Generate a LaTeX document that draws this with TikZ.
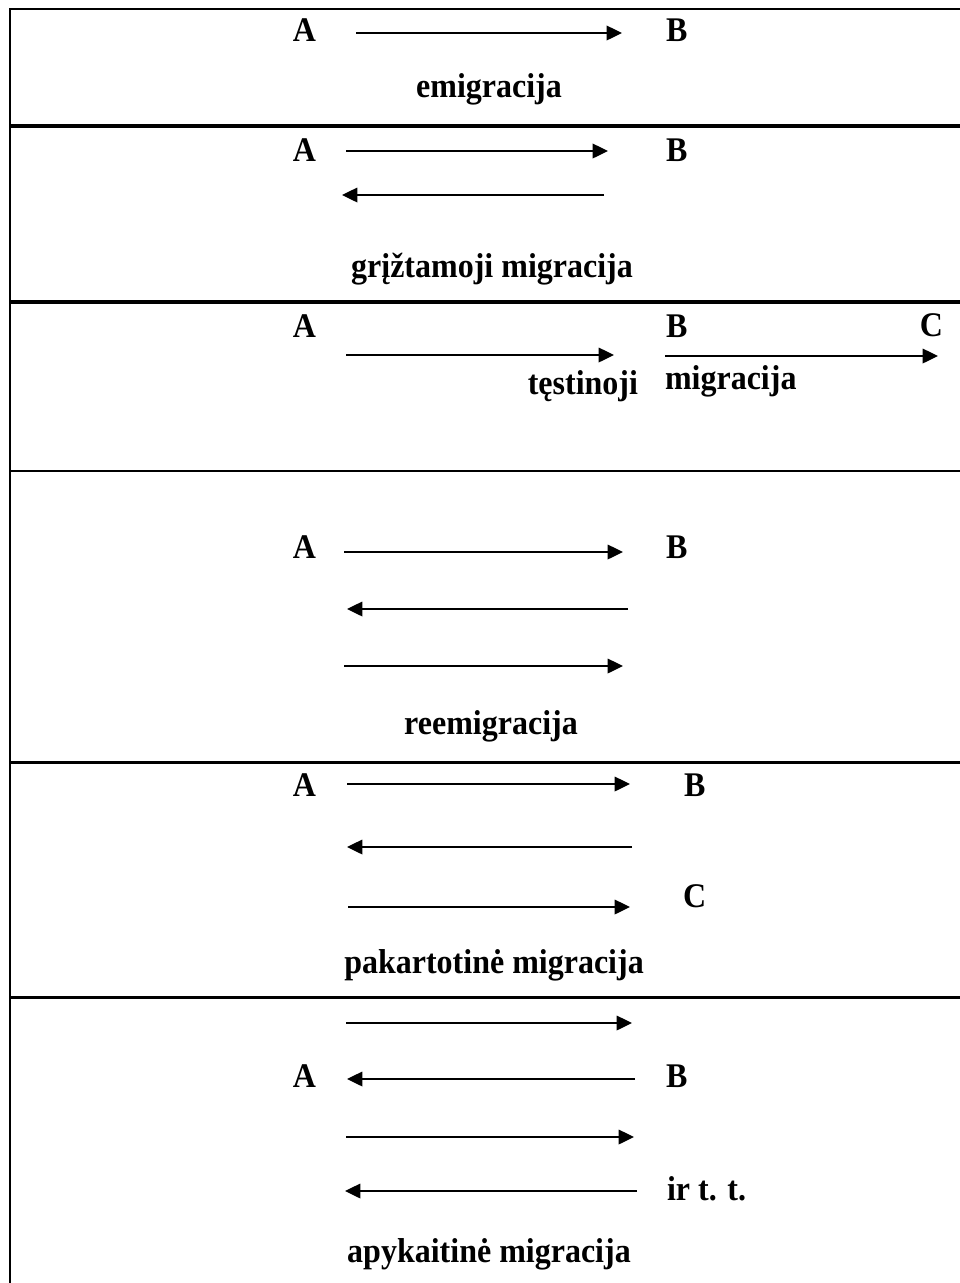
\documentclass[tikz,border=0pt]{standalone}
\usepackage{fontspec}
\usepackage{graphicx}
\setmainfont{Liberation Serif}
\usetikzlibrary{arrows.meta}
\newcommand{\tall}[1]{\scalebox{1}[1.08]{#1}}
\tikzset{
  lbl/.style={inner sep=0pt, outer sep=0pt, font=\fontsize{24}{28}\selectfont\bfseries},
  mig/.style={line width=1pt, -{Triangle[length=11.5pt,width=11pt]}},
  thinrule/.style={line width=1.5pt}
}
\begin{document}
\begin{tikzpicture}[x=0.75pt,y=-0.75pt]
\useasboundingbox (0,0) rectangle (960,1283);
% frame
\draw[thinrule] (10,1283) -- (10,9) -- (960,9);
\draw[line width=3pt] (9.25,126) -- (960,126);
\draw[line width=2.5pt] (9.25,302) -- (960,302);
\draw[thinrule] (9.25,471) -- (960,471);
\draw[line width=2.5pt] (9.25,762.5) -- (960,762.5);
\draw[line width=2.8pt] (9.25,997.5) -- (960,997.5);

% panel 1
\node[lbl, anchor=base east] (A1) at (316,41) {\tall{A}};
\node[lbl, anchor=base west] (B1) at (666,41) {\tall{B}};
\coordinate (p1s) at (356,33); \coordinate (p1e) at (622,33);
\draw[mig] (p1s) -- (p1e);
\node[lbl, anchor=base] (t1) at (489,97) {\tall{emigracija}};

% panel 2
\node[lbl, anchor=base east] (A2) at (316,161) {\tall{A}};
\node[lbl, anchor=base west] (B2) at (666,161) {\tall{B}};
\coordinate (p2a) at (346,151); \coordinate (p2b) at (608,151);
\coordinate (p2c) at (604,195); \coordinate (p2d) at (342,195);
\draw[mig] (p2a) -- (p2b);
\draw[mig] (p2c) -- (p2d);
\node[lbl, anchor=base] (t2) at (492,277) {\tall{grįžtamoji migracija}};

% panel 3
\node[lbl, anchor=base east] (A3) at (316,337) {\tall{A}};
\node[lbl, anchor=base west] (B3) at (666,337) {\tall{B}};
\node[lbl, anchor=base east] (C3) at (943,336) {\tall{C}};
\coordinate (p3a) at (346,355); \coordinate (p3b) at (614,355);
\coordinate (p3c) at (665,356); \coordinate (p3d) at (938,356);
\draw[mig] (p3a) -- (p3b);
\draw[mig] (p3c) -- (p3d);
\node[lbl, anchor=base east] (t3a) at (638,394) {\tall{tęstinoji}};
\node[lbl, anchor=base west] (t3b) at (665,389) {\tall{migracija}};

% panel 4
\node[lbl, anchor=base east] (A4) at (316,558) {\tall{A}};
\node[lbl, anchor=base west] (B4) at (666,558) {\tall{B}};
\coordinate (p4a) at (344,552); \coordinate (p4b) at (623,552);
\coordinate (p4c) at (628,609); \coordinate (p4d) at (347,609);
\coordinate (p4e) at (344,666); \coordinate (p4f) at (623,666);
\draw[mig] (p4a) -- (p4b);
\draw[mig] (p4c) -- (p4d);
\draw[mig] (p4e) -- (p4f);
\node[lbl, anchor=base] (t4) at (491,734) {\tall{reemigracija}};

% panel 5
\node[lbl, anchor=base east] (A5) at (316,796) {\tall{A}};
\node[lbl, anchor=base west] (B5) at (684,796) {\tall{B}};
\node[lbl, anchor=base west] (C5) at (683,907) {\tall{C}};
\coordinate (p5a) at (347,784); \coordinate (p5b) at (630,784);
\coordinate (p5c) at (632,847); \coordinate (p5d) at (347,847);
\coordinate (p5e) at (348,907); \coordinate (p5f) at (630,907);
\draw[mig] (p5a) -- (p5b);
\draw[mig] (p5c) -- (p5d);
\draw[mig] (p5e) -- (p5f);
\node[lbl, anchor=base] (t5) at (494,973) {\tall{pakartotinė migracija}};

% panel 6
\node[lbl, anchor=base east] (A6) at (316,1087) {\tall{A}};
\node[lbl, anchor=base west] (B6) at (666,1087) {\tall{B}};
\node[lbl, anchor=base west] (T6) at (667,1200) {\tall{ir t. t.}};
\coordinate (p6a) at (346,1023); \coordinate (p6b) at (632,1023);
\coordinate (p6c) at (635,1079); \coordinate (p6d) at (347,1079);
\coordinate (p6e) at (346,1137); \coordinate (p6f) at (634,1137);
\coordinate (p6g) at (637,1191); \coordinate (p6h) at (345,1191);
\draw[mig] (p6a) -- (p6b);
\draw[mig] (p6c) -- (p6d);
\draw[mig] (p6e) -- (p6f);
\draw[mig] (p6g) -- (p6h);
\node[lbl, anchor=base] (t6) at (489,1262) {\tall{apykaitinė migracija}};
\end{tikzpicture}
\end{document}
